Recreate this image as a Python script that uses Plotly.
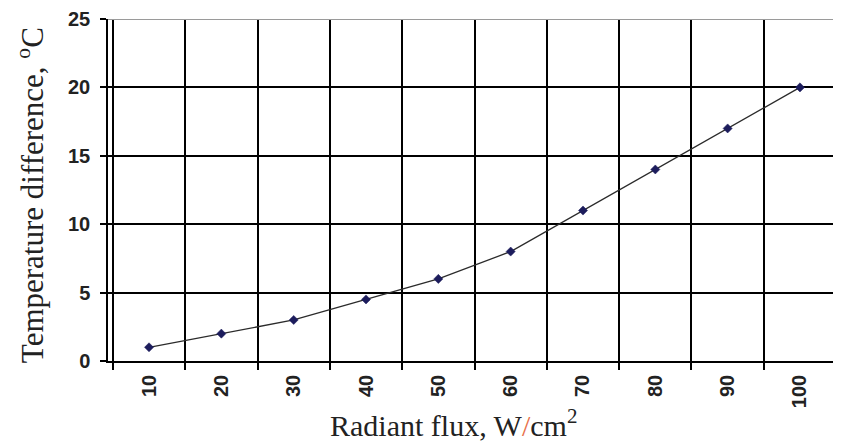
import plotly.graph_objects as go

categories = ["10", "20", "30", "40", "50", "60", "70", "80", "90", "100"]
temp_diff = [1, 2, 3, 4.5, 6, 8, 11, 14, 17, 20]
y_ticks = [0, 5, 10, 15, 20, 25]
x_title = "Radiant flux, W<span style='color:#e8704a'>/</span>cm<sup>2</sup>"
y_title = "Temperature difference, <sup>o</sup>C"

fig = go.Figure()
fig.add_trace(go.Scatter(
    x=categories, y=temp_diff, mode="lines+markers",
    line=dict(color="#2b2b2b", width=1.3),
    marker=dict(symbol="diamond", size=7, color="#1c1c5c",
                line=dict(color="#1c1c5c", width=0.5)),
    showlegend=False,
))

tick_font = dict(family="Liberation Sans", size=20, color="#222", weight="bold")

# page body has an 8px default margin: compensate in figure size / margins
fig.update_layout(
    width=833, height=437,
    margin=dict(l=100, r=0, t=11, b=84),
    plot_bgcolor="white", paper_bgcolor="white",
    xaxis=dict(
        type="category", tickson="boundaries", automargin=False,
        showgrid=True, gridcolor="black", gridwidth=1.5,
        showline=True, linecolor="black", linewidth=1.5,
        ticks="outside", ticklen=7, tickcolor="black", tickwidth=1.5,
        tickangle=-90, ticklabelstandoff=4,
        tickfont=tick_font,
    ),
    yaxis=dict(
        range=[0, 25], tickvals=y_ticks, automargin=False,
        showgrid=True, gridcolor="black", gridwidth=1.5,
        showline=True, linecolor="black", linewidth=1.5,
        ticks="outside", ticklen=6, tickcolor="black", tickwidth=1.5,
        ticklabelstandoff=6,
        zeroline=False,
        tickfont=tick_font,
    ),
    shapes=[dict(type="line", xref="paper", yref="y", x0=0, x1=1, y0=25, y1=25,
                 line=dict(color="#9a9a9a", width=2), layer="above")],
    annotations=[
        dict(text=x_title, xref="paper", yref="paper", x=0.471, y=0,
             xanchor="center", yanchor="middle", yshift=-62, showarrow=False,
             font=dict(family="Liberation Serif", size=30, color="#222")),
        dict(text=y_title, xref="paper", yref="paper", x=0, y=0.485,
             xanchor="center", yanchor="middle", xshift=-78, textangle=-90,
             showarrow=False,
             font=dict(family="Liberation Serif", size=31, color="#222")),
    ],
)

fig.write_html("out.html")
